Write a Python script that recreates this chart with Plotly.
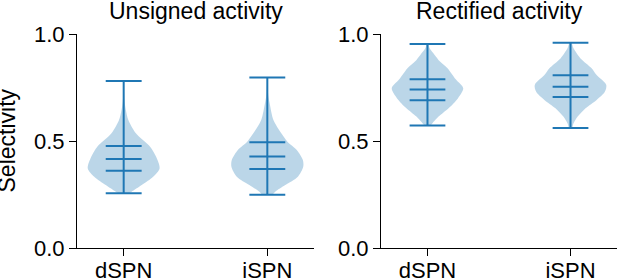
import plotly.graph_objects as go

# ---------------- data ----------------
categories = ["dSPN", "iSPN"]
panel_titles = ["Unsigned activity", "Rectified activity"]
y_label = "Selectivity"
y_ticks = [0.0, 0.5, 1.0]
y_tick_labels = ["0.0", "0.5", "1.0"]

# stats: [min, q25, median, q75, max]
unsigned_dspn_stats = [0.256, 0.361, 0.416, 0.477, 0.780]
unsigned_ispn_stats = [0.249, 0.369, 0.427, 0.494, 0.797]
rectified_dspn_stats = [0.573, 0.690, 0.741, 0.788, 0.953]
rectified_ispn_stats = [0.561, 0.706, 0.754, 0.807, 0.959]

# density profiles (selectivity level, relative density)
unsigned_dspn_y = [0.256, 0.263, 0.294, 0.333, 0.372, 0.427, 0.474, 0.536, 0.598, 0.645, 0.684, 0.73, 0.78]
unsigned_dspn_d = [0.14, 0.22, 0.5, 0.82, 1.0, 0.9, 0.73, 0.34, 0.13, 0.06, 0.025, 0.01, 0.0]

unsigned_ispn_y = [0.249, 0.263, 0.294, 0.333, 0.38, 0.411, 0.458, 0.497, 0.536, 0.598, 0.676, 0.715, 0.76, 0.797]
unsigned_ispn_d = [0.14, 0.22, 0.5, 0.85, 1.0, 0.99, 0.82, 0.56, 0.39, 0.17, 0.065, 0.025, 0.01, 0.0]

rectified_dspn_y = [0.575, 0.583, 0.614, 0.653, 0.699, 0.746, 0.788, 0.840, 0.871, 0.902, 0.933, 0.953]
rectified_dspn_d = [0.1, 0.14, 0.31, 0.59, 0.85, 1.0, 0.79, 0.56, 0.35, 0.2, 0.06, 0.02]

rectified_ispn_y = [0.562, 0.583, 0.614, 0.653, 0.692, 0.730, 0.762, 0.808, 0.840, 0.886, 0.933, 0.961]
rectified_ispn_d = [0.05, 0.085, 0.2, 0.42, 0.73, 0.96, 1.0, 0.73, 0.59, 0.28, 0.085, 0.02]

panels = [
    [(unsigned_dspn_y, unsigned_dspn_d, unsigned_dspn_stats),
     (unsigned_ispn_y, unsigned_ispn_d, unsigned_ispn_stats)],
    [(rectified_dspn_y, rectified_dspn_d, rectified_dspn_stats),
     (rectified_ispn_y, rectified_ispn_d, rectified_ispn_stats)],
]

# ---------------- styling ----------------
W, H = 617, 278
FONT = "Liberation Sans, Arial, Helvetica, sans-serif"
FS = 22
TFS = 23
LINE_C = "#1f77b4"
FILL_C = "rgba(31,119,180,0.3)"
HALF_W = 0.25      # max half-width of violin (x units)
BAR_HALF = 0.125   # half-length of horizontal bars

x_domains = [[77 / W, 314 / W], [381 / W, 1.0]]
y_domain = [1 - 248 / H, 1 - 34 / H]

fig = go.Figure()

for p, violins in enumerate(panels):
    xa = "x" if p == 0 else "x2"
    ya = "y" if p == 0 else "y2"
    for i, (vy, vd, st) in enumerate(violins):
        pos = i + 1
        xs = [pos + HALF_W * d for d in vd] + [pos - HALF_W * d for d in reversed(vd)]
        ys = list(vy) + list(reversed(vy))
        fig.add_trace(go.Scatter(
            x=xs, y=ys, mode="lines", fill="toself", fillcolor=FILL_C,
            line=dict(width=0, color=FILL_C, shape="spline", smoothing=0.8),
            xaxis=xa, yaxis=ya, showlegend=False, hoverinfo="skip"))
        lx, ly = [pos, pos, None], [st[0], st[4], None]
        for v in st:
            lx += [pos - BAR_HALF, pos + BAR_HALF, None]
            ly += [v, v, None]
        fig.add_trace(go.Scatter(
            x=lx, y=ly, mode="lines", line=dict(color=LINE_C, width=2),
            xaxis=xa, yaxis=ya, showlegend=False, hoverinfo="skip"))

axis_common = dict(showline=True, linecolor="black", linewidth=1.2,
                   ticks="outside", ticklen=7, tickwidth=1.2, tickcolor="black",
                   showgrid=False, zeroline=False, automargin=False,
                   tickfont=dict(family=FONT, size=FS, color="black"))

layout = dict(
    width=W, height=H, margin=dict(l=0, r=0, t=0, b=0, autoexpand=False),
    paper_bgcolor="white", plot_bgcolor="white", showlegend=False,
    font=dict(family=FONT, size=FS, color="black"),
)
for p in range(2):
    sx = "" if p == 0 else "2"
    layout["xaxis" + sx] = dict(axis_common, domain=x_domains[p], range=[0.675, 2.325],
                                tickvals=[1, 2], ticktext=categories,
                                ticklabelstandoff=-5,
                                anchor="y" + sx)
    layout["yaxis" + sx] = dict(axis_common, domain=y_domain, range=[0, 1],
                                tickvals=y_ticks, ticktext=y_tick_labels,
                                anchor="x" + sx)
fig.update_layout(**layout)

annotations = []
for p in range(2):
    annotations.append(dict(
        text=panel_titles[p], xref="paper", yref="paper",
        x=(x_domains[p][0] + x_domains[p][1]) / 2, y=1 - 11 / H,
        xanchor="center", yanchor="middle", showarrow=False,
        font=dict(family=FONT, size=TFS, color="black")))
annotations.append(dict(
    text=y_label, xref="paper", yref="paper", x=6.5 / W, y=1 - 141 / H,
    xanchor="center", yanchor="middle", textangle=-90, showarrow=False,
    font=dict(family=FONT, size=TFS, color="black")))
fig.update_layout(annotations=annotations)

fig.write_html("out.html", config={"displayModeBar": False},
               post_script="document.body.style.margin='0';document.body.style.overflow='hidden';")
